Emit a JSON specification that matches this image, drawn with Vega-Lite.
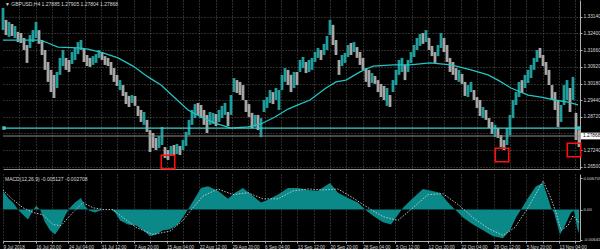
{
"$schema":"https://vega.github.io/schema/vega-lite/v6.json",
"background":"#000000",
"padding":0,
"spacing":2,
"config":{"view":{"stroke":null},"font":"Liberation Sans",
"axis":{"labelColor":"#d8d8d8","labelFontSize":4.8,"domainColor":"#b0b0b0","tickColor":"#b0b0b0","gridColor":"#6e6e6e","gridDash":[1,2],"gridWidth":0.8,"title":null,"labelFont":"Liberation Sans"}},
"datasets":{
"candles":[
{"i":0,"hi":1.3353,"lo":1.3255,"d":"u"},{"i":3,"hi":1.3300,"lo":1.3233,"d":"d"},{"i":6,"hi":1.3291,"lo":1.3225,"d":"u"},{"i":9,"hi":1.3282,"lo":1.3229,"d":"d"},{"i":12,"hi":1.3273,"lo":1.3220,"d":"u"},{"i":15,"hi":1.3247,"lo":1.3202,"d":"d"},{"i":18,"hi":1.3242,"lo":1.3198,"d":"d"},{"i":21,"hi":1.3220,"lo":1.3167,"d":"d"},{"i":24,"hi":1.3189,"lo":1.3110,"d":"d"},{"i":27,"hi":1.3233,"lo":1.3176,"d":"u"},{"i":30,"hi":1.3255,"lo":1.3202,"d":"u"},{"i":33,"hi":1.3291,"lo":1.3220,"d":"u"},{"i":36,"hi":1.3255,"lo":1.3194,"d":"d"},{"i":39,"hi":1.3211,"lo":1.3145,"d":"d"},{"i":42,"hi":1.3167,"lo":1.3079,"d":"d"},{"i":45,"hi":1.3114,"lo":1.3026,"d":"d"},{"i":48,"hi":1.3079,"lo":1.2981,"d":"d"},{"i":51,"hi":1.3057,"lo":1.2955,"d":"d"},{"i":54,"hi":1.3070,"lo":1.2999,"d":"u"},{"i":57,"hi":1.3132,"lo":1.3057,"d":"u"},{"i":60,"hi":1.3167,"lo":1.3096,"d":"u"},{"i":63,"hi":1.3132,"lo":1.3079,"d":"d"},{"i":66,"hi":1.3123,"lo":1.3070,"d":"d"},{"i":69,"hi":1.3158,"lo":1.3105,"d":"u"},{"i":72,"hi":1.3176,"lo":1.3123,"d":"u"},{"i":75,"hi":1.3202,"lo":1.3149,"d":"u"},{"i":78,"hi":1.3211,"lo":1.3167,"d":"u"},{"i":81,"hi":1.3176,"lo":1.3114,"d":"d"},{"i":84,"hi":1.3145,"lo":1.3096,"d":"d"},{"i":87,"hi":1.3132,"lo":1.3092,"d":"d"},{"i":90,"hi":1.3140,"lo":1.3101,"d":"u"},{"i":93,"hi":1.3149,"lo":1.3110,"d":"u"},{"i":96,"hi":1.3167,"lo":1.3132,"d":"u"},{"i":99,"hi":1.3158,"lo":1.3123,"d":"d"},{"i":102,"hi":1.3140,"lo":1.3101,"d":"d"},{"i":105,"hi":1.3132,"lo":1.3096,"d":"d"},{"i":108,"hi":1.3114,"lo":1.3057,"d":"d"},{"i":111,"hi":1.3087,"lo":1.3026,"d":"d"},{"i":114,"hi":1.3057,"lo":1.3008,"d":"d"},{"i":117,"hi":1.3034,"lo":1.2990,"d":"u"},{"i":120,"hi":1.3012,"lo":1.2964,"d":"d"},{"i":123,"hi":1.2981,"lo":1.2928,"d":"d"},{"i":126,"hi":1.2964,"lo":1.2915,"d":"d"},{"i":129,"hi":1.2968,"lo":1.2933,"d":"u"},{"i":132,"hi":1.2964,"lo":1.2920,"d":"d"},{"i":135,"hi":1.2920,"lo":1.2875,"d":"d"},{"i":138,"hi":1.2902,"lo":1.2849,"d":"d"},{"i":141,"hi":1.2893,"lo":1.2836,"d":"u"},{"i":144,"hi":1.2858,"lo":1.2805,"d":"d"},{"i":147,"hi":1.2813,"lo":1.2716,"d":"d"},{"i":150,"hi":1.2800,"lo":1.2734,"d":"d"},{"i":153,"hi":1.2778,"lo":1.2725,"d":"d"},{"i":156,"hi":1.2787,"lo":1.2734,"d":"u"},{"i":159,"hi":1.2827,"lo":1.2747,"d":"u"},{"i":162,"hi":1.2738,"lo":1.2690,"d":"d"},{"i":165,"hi":1.2725,"lo":1.2681,"d":"d"},{"i":168,"hi":1.2743,"lo":1.2699,"d":"u"},{"i":171,"hi":1.2747,"lo":1.2703,"d":"d"},{"i":174,"hi":1.2752,"lo":1.2707,"d":"u"},{"i":177,"hi":1.2743,"lo":1.2703,"d":"d"},{"i":180,"hi":1.2769,"lo":1.2725,"d":"u"},{"i":183,"hi":1.2805,"lo":1.2743,"d":"u"},{"i":186,"hi":1.2858,"lo":1.2791,"d":"u"},{"i":189,"hi":1.2902,"lo":1.2836,"d":"u"},{"i":192,"hi":1.2928,"lo":1.2866,"d":"u"},{"i":195,"hi":1.2933,"lo":1.2880,"d":"d"},{"i":198,"hi":1.2924,"lo":1.2866,"d":"d"},{"i":201,"hi":1.2902,"lo":1.2836,"d":"d"},{"i":204,"hi":1.2880,"lo":1.2800,"d":"d"},{"i":207,"hi":1.2893,"lo":1.2836,"d":"u"},{"i":210,"hi":1.2889,"lo":1.2840,"d":"u"},{"i":213,"hi":1.2884,"lo":1.2831,"d":"d"},{"i":216,"hi":1.2902,"lo":1.2849,"d":"u"},{"i":219,"hi":1.2920,"lo":1.2866,"d":"u"},{"i":222,"hi":1.2933,"lo":1.2880,"d":"u"},{"i":225,"hi":1.2893,"lo":1.2831,"d":"d"},{"i":228,"hi":1.2968,"lo":1.2880,"d":"u"},{"i":231,"hi":1.3043,"lo":1.2981,"d":"u"},{"i":234,"hi":1.3034,"lo":1.2977,"d":"d"},{"i":237,"hi":1.3026,"lo":1.2968,"d":"d"},{"i":240,"hi":1.3012,"lo":1.2946,"d":"d"},{"i":243,"hi":1.2946,"lo":1.2893,"d":"d"},{"i":246,"hi":1.2928,"lo":1.2871,"d":"d"},{"i":249,"hi":1.2889,"lo":1.2822,"d":"d"},{"i":252,"hi":1.2880,"lo":1.2827,"d":"u"},{"i":255,"hi":1.2880,"lo":1.2813,"d":"d"},{"i":258,"hi":1.2866,"lo":1.2782,"d":"u"},{"i":261,"hi":1.2946,"lo":1.2893,"d":"u"},{"i":264,"hi":1.2959,"lo":1.2911,"d":"u"},{"i":267,"hi":1.2990,"lo":1.2933,"d":"u"},{"i":270,"hi":1.2981,"lo":1.2928,"d":"d"},{"i":273,"hi":1.2999,"lo":1.2946,"d":"u"},{"i":276,"hi":1.2990,"lo":1.2902,"d":"u"},{"i":279,"hi":1.3057,"lo":1.2990,"d":"u"},{"i":282,"hi":1.3087,"lo":1.3026,"d":"u"},{"i":285,"hi":1.3079,"lo":1.3012,"d":"d"},{"i":288,"hi":1.3057,"lo":1.2981,"d":"d"},{"i":291,"hi":1.3070,"lo":1.2999,"d":"u"},{"i":294,"hi":1.3070,"lo":1.3012,"d":"d"},{"i":297,"hi":1.3123,"lo":1.3070,"d":"u"},{"i":300,"hi":1.3136,"lo":1.3087,"d":"u"},{"i":303,"hi":1.3114,"lo":1.3065,"d":"d"},{"i":306,"hi":1.3123,"lo":1.3070,"d":"u"},{"i":309,"hi":1.3132,"lo":1.3079,"d":"u"},{"i":312,"hi":1.3158,"lo":1.3114,"d":"u"},{"i":315,"hi":1.3176,"lo":1.3132,"d":"u"},{"i":318,"hi":1.3167,"lo":1.3123,"d":"d"},{"i":321,"hi":1.3194,"lo":1.3145,"d":"u"},{"i":324,"hi":1.3229,"lo":1.3167,"d":"u"},{"i":327,"hi":1.3300,"lo":1.3233,"d":"u"},{"i":330,"hi":1.3278,"lo":1.3189,"d":"d"},{"i":333,"hi":1.3211,"lo":1.3145,"d":"d"},{"i":336,"hi":1.3123,"lo":1.3057,"d":"d"},{"i":339,"hi":1.3145,"lo":1.3096,"d":"u"},{"i":342,"hi":1.3154,"lo":1.3110,"d":"u"},{"i":345,"hi":1.3189,"lo":1.3136,"d":"u"},{"i":348,"hi":1.3198,"lo":1.3145,"d":"d"},{"i":351,"hi":1.3202,"lo":1.3158,"d":"u"},{"i":354,"hi":1.3180,"lo":1.3132,"d":"d"},{"i":357,"hi":1.3158,"lo":1.3101,"d":"d"},{"i":360,"hi":1.3132,"lo":1.3079,"d":"d"},{"i":363,"hi":1.3087,"lo":1.3026,"d":"d"},{"i":366,"hi":1.3079,"lo":1.3003,"d":"d"},{"i":369,"hi":1.3065,"lo":1.3021,"d":"u"},{"i":372,"hi":1.3052,"lo":1.3017,"d":"d"},{"i":375,"hi":1.3034,"lo":1.2981,"d":"d"},{"i":378,"hi":1.3017,"lo":1.2959,"d":"d"},{"i":381,"hi":1.3008,"lo":1.2946,"d":"d"},{"i":384,"hi":1.2999,"lo":1.2920,"d":"u"},{"i":387,"hi":1.2968,"lo":1.2915,"d":"d"},{"i":390,"hi":1.3034,"lo":1.2981,"d":"u"},{"i":393,"hi":1.3079,"lo":1.3012,"d":"u"},{"i":396,"hi":1.3123,"lo":1.3057,"d":"u"},{"i":399,"hi":1.3132,"lo":1.3070,"d":"u"},{"i":402,"hi":1.3101,"lo":1.3034,"d":"d"},{"i":405,"hi":1.3123,"lo":1.3070,"d":"u"},{"i":408,"hi":1.3158,"lo":1.3110,"d":"u"},{"i":411,"hi":1.3189,"lo":1.3136,"d":"u"},{"i":414,"hi":1.3220,"lo":1.3167,"d":"u"},{"i":417,"hi":1.3238,"lo":1.3185,"d":"u"},{"i":420,"hi":1.3242,"lo":1.3194,"d":"d"},{"i":423,"hi":1.3255,"lo":1.3202,"d":"u"},{"i":426,"hi":1.3220,"lo":1.3167,"d":"d"},{"i":429,"hi":1.3185,"lo":1.3140,"d":"d"},{"i":432,"hi":1.3158,"lo":1.3110,"d":"d"},{"i":435,"hi":1.3189,"lo":1.3140,"d":"u"},{"i":438,"hi":1.3242,"lo":1.3176,"d":"u"},{"i":441,"hi":1.3220,"lo":1.3158,"d":"d"},{"i":444,"hi":1.3189,"lo":1.3114,"d":"d"},{"i":447,"hi":1.3132,"lo":1.3070,"d":"d"},{"i":450,"hi":1.3114,"lo":1.3057,"d":"d"},{"i":453,"hi":1.3087,"lo":1.3034,"d":"d"},{"i":456,"hi":1.3079,"lo":1.3026,"d":"u"},{"i":459,"hi":1.3061,"lo":1.3017,"d":"d"},{"i":462,"hi":1.3026,"lo":1.2964,"d":"d"},{"i":465,"hi":1.3012,"lo":1.2959,"d":"u"},{"i":468,"hi":1.3026,"lo":1.2981,"d":"u"},{"i":471,"hi":1.2990,"lo":1.2946,"d":"d"},{"i":474,"hi":1.2959,"lo":1.2911,"d":"d"},{"i":477,"hi":1.2946,"lo":1.2875,"d":"d"},{"i":480,"hi":1.2915,"lo":1.2866,"d":"u"},{"i":483,"hi":1.2902,"lo":1.2858,"d":"d"},{"i":486,"hi":1.2866,"lo":1.2822,"d":"d"},{"i":489,"hi":1.2849,"lo":1.2796,"d":"d"},{"i":492,"hi":1.2836,"lo":1.2782,"d":"u"},{"i":495,"hi":1.2822,"lo":1.2778,"d":"d"},{"i":498,"hi":1.2791,"lo":1.2738,"d":"d"},{"i":501,"hi":1.2769,"lo":1.2725,"d":"d"},{"i":504,"hi":1.2822,"lo":1.2747,"d":"u"},{"i":507,"hi":1.2880,"lo":1.2791,"d":"u"},{"i":510,"hi":1.2946,"lo":1.2866,"d":"u"},{"i":513,"hi":1.2981,"lo":1.2924,"d":"u"},{"i":516,"hi":1.3026,"lo":1.2959,"d":"u"},{"i":519,"hi":1.3034,"lo":1.2977,"d":"d"},{"i":522,"hi":1.3057,"lo":1.2999,"d":"u"},{"i":525,"hi":1.3079,"lo":1.3021,"d":"u"},{"i":528,"hi":1.3101,"lo":1.3043,"d":"u"},{"i":531,"hi":1.3132,"lo":1.3079,"d":"u"},{"i":534,"hi":1.3167,"lo":1.3114,"d":"u"},{"i":537,"hi":1.3176,"lo":1.3132,"d":"d"},{"i":540,"hi":1.3145,"lo":1.3096,"d":"d"},{"i":543,"hi":1.3114,"lo":1.3057,"d":"d"},{"i":546,"hi":1.3079,"lo":1.3012,"d":"d"},{"i":549,"hi":1.3012,"lo":1.2946,"d":"d"},{"i":552,"hi":1.2981,"lo":1.2902,"d":"d"},{"i":555,"hi":1.2946,"lo":1.2827,"d":"d"},{"i":558,"hi":1.2924,"lo":1.2849,"d":"u"},{"i":561,"hi":1.3012,"lo":1.2924,"d":"u"},{"i":564,"hi":1.3034,"lo":1.2946,"d":"u"},{"i":567,"hi":1.2999,"lo":1.2893,"d":"d"},{"i":570,"hi":1.3048,"lo":1.2946,"d":"u"},{"i":573,"hi":1.2889,"lo":1.2769,"d":"d"},{"i":576,"hi":1.2813,"lo":1.2738,"d":"d"}
],
"ma":[
{"i":0,"v":1.3211},{"i":37,"v":1.3211},{"i":45,"v":1.3198},{"i":55,"v":1.3180},{"i":75,"v":1.3176},{"i":85,"v":1.3171},{"i":100,"v":1.3154},{"i":115,"v":1.3132},{"i":130,"v":1.3096},{"i":145,"v":1.3048},{"i":158,"v":1.3012},{"i":172,"v":1.2955},{"i":185,"v":1.2902},{"i":198,"v":1.2871},{"i":212,"v":1.2844},{"i":228,"v":1.2822},{"i":245,"v":1.2827},{"i":258,"v":1.2840},{"i":272,"v":1.2871},{"i":285,"v":1.2906},{"i":295,"v":1.2924},{"i":307,"v":1.2946},{"i":323,"v":1.2999},{"i":333,"v":1.3026},{"i":343,"v":1.3034},{"i":357,"v":1.3070},{"i":370,"v":1.3096},{"i":390,"v":1.3101},{"i":407,"v":1.3101},{"i":427,"v":1.3110},{"i":448,"v":1.3101},{"i":468,"v":1.3079},{"i":485,"v":1.3057},{"i":495,"v":1.3034},{"i":508,"v":1.2999},{"i":525,"v":1.2968},{"i":538,"v":1.2959},{"i":552,"v":1.2946},{"i":565,"v":1.2937},{"i":575,"v":1.2924}
],
"level":[{"i":1,"p":1.2822},{"i":576,"p":1.2822}],
"marks":[{"i":165,"p":1.2672},{"i":499,"p":1.2703},{"i":571,"p":1.2725}],
"hist":[
{"i":0,"h":0.0040},{"i":5,"h":0.0025},{"i":10,"h":0.0015},{"i":15,"h":0},{"i":20,"h":-0.0011},{"i":25,"h":-0.0021},{"i":30,"h":-0.0002},{"i":33,"h":0.0008},{"i":37,"h":0},{"i":42,"h":-0.0027},{"i":47,"h":-0.0044},{"i":52,"h":-0.0053},{"i":57,"h":-0.0038},{"i":62,"h":-0.0013},{"i":66,"h":0.0002},{"i":72,"h":0.0015},{"i":78,"h":0.0025},{"i":82,"h":0.0008},{"i":86,"h":-0.0002},{"i":92,"h":-0.0006},{"i":100,"h":0},{"i":108,"h":0},{"i":112,"h":-0.0006},{"i":117,"h":-0.0023},{"i":125,"h":-0.0032},{"i":133,"h":-0.0034},{"i":140,"h":-0.0044},{"i":147,"h":-0.0057},{"i":153,"h":-0.0053},{"i":160,"h":-0.0044},{"i":167,"h":-0.0042},{"i":175,"h":-0.0032},{"i":181,"h":-0.0013},{"i":186,"h":0.0004},{"i":192,"h":0.0025},{"i":198,"h":0.0046},{"i":205,"h":0.0050},{"i":215,"h":0.0040},{"i":225,"h":0.0023},{"i":232,"h":0.0036},{"i":240,"h":0.0046},{"i":250,"h":0.0029},{"i":258,"h":0.0015},{"i":265,"h":0.0021},{"i":275,"h":0.0032},{"i":285,"h":0.0046},{"i":295,"h":0.0046},{"i":305,"h":0.0042},{"i":315,"h":0.0040},{"i":327,"h":0.0057},{"i":335,"h":0.0036},{"i":345,"h":0.0025},{"i":355,"h":0.0015},{"i":362,"h":0},{"i":370,"h":-0.0013},{"i":380,"h":-0.0027},{"i":388,"h":-0.0032},{"i":395,"h":-0.0011},{"i":400,"h":0.0004},{"i":410,"h":0.0025},{"i":420,"h":0.0044},{"i":428,"h":0.0040},{"i":437,"h":0.0036},{"i":445,"h":0.0015},{"i":452,"h":0},{"i":460,"h":-0.0017},{"i":470,"h":-0.0032},{"i":480,"h":-0.0044},{"i":490,"h":-0.0057},{"i":500,"h":-0.0061},{"i":507,"h":-0.0044},{"i":513,"h":-0.0017},{"i":518,"h":0},{"i":525,"h":0.0025},{"i":533,"h":0.0050},{"i":540,"h":0.0057},{"i":545,"h":0.0025},{"i":548,"h":0.0004},{"i":551,"h":-0.0006},{"i":557,"h":-0.0053},{"i":562,"h":-0.0034},{"i":568,"h":-0.0006},{"i":571,"h":-0.0002},{"i":574,"h":-0.0038},{"i":576,"h":-0.0051}
],
"sig":[
{"i":0,"s":0.0042},{"i":10,"s":0.0021},{"i":20,"s":0.0004},{"i":30,"s":-0.0006},{"i":40,"s":-0.0011},{"i":50,"s":-0.0032},{"i":58,"s":-0.0034},{"i":70,"s":-0.0006},{"i":80,"s":0.0015},{"i":90,"s":0.0004},{"i":100,"s":0},{"i":110,"s":0},{"i":120,"s":-0.0017},{"i":133,"s":-0.0038},{"i":150,"s":-0.0053},{"i":167,"s":-0.0046},{"i":180,"s":-0.0023},{"i":190,"s":0.0004},{"i":200,"s":0.0029},{"i":215,"s":0.0044},{"i":230,"s":0.0032},{"i":245,"s":0.0036},{"i":260,"s":0.0023},{"i":275,"s":0.0023},{"i":290,"s":0.0040},{"i":305,"s":0.0044},{"i":320,"s":0.0042},{"i":335,"s":0.0044},{"i":350,"s":0.0025},{"i":365,"s":0.0004},{"i":380,"s":-0.0015},{"i":395,"s":-0.0023},{"i":410,"s":0.0004},{"i":425,"s":0.0032},{"i":440,"s":0.0034},{"i":455,"s":0.0011},{"i":470,"s":-0.0017},{"i":485,"s":-0.0040},{"i":500,"s":-0.0055},{"i":512,"s":-0.0038},{"i":525,"s":0.0004},{"i":540,"s":0.0061},{"i":547,"s":0.0029},{"i":553,"s":-0.0006},{"i":558,"s":-0.0044},{"i":565,"s":-0.0034},{"i":570,"s":-0.0013},{"i":576,"s":-0.0027}
],
"hdr":[{"i":2,"p":1.3372,"t":"▼  GBPUSD,H4  1.27885 1.27905 1.27804 1.27868"}],
"mhdr":[{"i":2,"v":0.0066,"t":"MACD(12,26,9) -0.005127 -0.002708"}],
"bid":[{"i":577,"p":1.27868,"t":"1.27868"}]
},
"vconcat":[
{
"width":577,"height":169,
"layer":[
{"data":{"name":"candles"},"mark":{"type":"rule","strokeWidth":2.8},
"encoding":{
"x":{"field":"i","type":"quantitative","scale":{"domain":[0,577],"nice":false,"zero":false},
"axis":{"orient":"bottom","labels":false,"ticks":false,"domain":true,"domainColor":"#909090","grid":true,"tickCount":100,
"values":[16.35,32.7,49.05,65.4,81.75,98.1,114.45,130.8,147.15,163.5,179.85,196.2,212.55,228.9,245.25,261.6,277.95,294.3,310.65,327,343.35,359.7,376.05,392.4,408.75,425.1,441.45,457.8,474.15,490.5,506.85,523.2,539.55,555.9,572.25]}},
"y":{"field":"lo","type":"quantitative","scale":{"domain":[1.2641,1.3388],"nice":false,"zero":false},
"axis":{"orient":"right","grid":true,"tickSize":2,"labelPadding":1,"labelBaseline":"middle","labelOverlap":false,"labelBound":false,"labelFlush":false,"tickCount":100,
"values":[1.3314,1.324,1.3166,1.3092,1.3018,1.2944,1.2872,1.2798,1.2724,1.265],
"labelExpr":"abs(datum.value-1.2798)<0.0001 ? '' : format(datum.value,'.5f')"}},
"y2":{"field":"hi"},
"color":{"field":"d","type":"nominal","scale":{"domain":["u","d"],"range":["#1f9c9c","#a6a6a6"]},"legend":null}}},
{"data":{"name":"ma"},"mark":{"type":"line","color":"#22c4c4","strokeWidth":1.3},
"encoding":{"x":{"field":"i","type":"quantitative"},"y":{"field":"v","type":"quantitative"}}},
{"data":{"name":"level"},"mark":{"type":"line","color":"#3ad0d0","strokeWidth":1.3},
"encoding":{"x":{"field":"i","type":"quantitative"},"y":{"field":"p","type":"quantitative"}}},
{"data":{"name":"level"},"mark":{"type":"point","shape":"square","filled":true,"color":"#3ad0d0","size":12,"opacity":1},
"encoding":{"x":{"field":"i","type":"quantitative"},"y":{"field":"p","type":"quantitative"}}},
{"data":{"name":"bid"},"mark":{"type":"rule","color":"#8a8a8a","strokeWidth":1},
"encoding":{"y":{"field":"p","type":"quantitative"}}},
{"data":{"name":"marks"},"mark":{"type":"point","shape":"square","filled":false,"stroke":"#ff1010","strokeWidth":1.6,"size":180,"opacity":1},
"encoding":{"x":{"field":"i","type":"quantitative"},"y":{"field":"p","type":"quantitative"}}},
{"data":{"name":"hdr"},"mark":{"type":"text","align":"left","baseline":"middle","fontSize":5,"color":"#d8d8d8"},
"encoding":{"x":{"field":"i","type":"quantitative"},"y":{"field":"p","type":"quantitative"},"text":{"field":"t"}}},
{"data":{"name":"bid"},"mark":{"type":"point","shape":"M-1,-0.32L1,-0.32L1,0.32L-1,0.32Z","filled":true,"color":"#ffffff","size":440,"opacity":1,"xOffset":11.5},
"encoding":{"x":{"field":"i","type":"quantitative"},"y":{"field":"p","type":"quantitative"}}},
{"data":{"name":"bid"},"mark":{"type":"text","align":"left","baseline":"middle","fontSize":4.8,"color":"#000000","dx":3},
"encoding":{"x":{"field":"i","type":"quantitative"},"y":{"field":"p","type":"quantitative"},"text":{"field":"t"}}}
]
},
{
"width":577,"height":67,
"layer":[
{"data":{"name":"hist"},"mark":{"type":"area","color":"#0b8888","opacity":1},
"encoding":{
"x":{"field":"i","type":"quantitative","scale":{"domain":[0,577],"nice":false,"zero":false},
"axis":{"orient":"bottom","grid":true,"tickSize":2,"labelAlign":"left","labelPadding":1,"labelFontSize":4.6,"labelOverlap":false,"labelBound":false,"labelFlush":false,"tickCount":100,
"values":[0,16.35,32.7,49.05,65.4,81.75,98.1,114.45,130.8,147.15,163.5,179.85,196.2,212.55,228.9,245.25,261.6,277.95,294.3,310.65,327,343.35,359.7,376.05,392.4,408.75,425.1,441.45,457.8,474.15,490.5,506.85,523.2,539.55,555.9,572.25],
"labelExpr":"round(datum.value/16.35) % 2 == 0 ? ['9 Jul 2018','16 Jul 20:00','24 Jul 04:00','31 Jul 12:00','7 Aug 20:00','15 Aug 04:00','22 Aug 12:00','29 Aug 20:00','6 Sep 04:00','13 Sep 12:00','20 Sep 20:00','28 Sep 04:00','5 Oct 12:00','12 Oct 20:00','22 Oct 04:00','29 Oct 12:00','5 Nov 20:00','13 Nov 04:00'][round(datum.value/32.7)] : ''"}},
"y":{"field":"h","type":"quantitative","scale":{"domain":[-0.0067,0.0076],"nice":false,"zero":false},
"axis":{"orient":"right","grid":false,"tickSize":2,"labelPadding":1,"labelFontSize":4.3,"labelBaseline":"middle","labelOverlap":false,"labelBound":false,"labelFlush":false,"tickCount":100,"values":[0.006705,0,-0.006418],
"labelExpr":"datum.value > 0.001 ? '0.006705' : (datum.value < -0.001 ? '-0.006418' : '0.00')"}},
"y2":{"datum":0}}},
{"data":{"name":"sig"},"mark":{"type":"line","color":"#d0d0d0","strokeWidth":0.9,"strokeDash":[1.5,1.5]},
"encoding":{"x":{"field":"i","type":"quantitative"},"y":{"field":"s","type":"quantitative"}}},
{"data":{"name":"mhdr"},"mark":{"type":"text","align":"left","baseline":"middle","fontSize":5,"color":"#d8d8d8"},
"encoding":{"x":{"field":"i","type":"quantitative"},"y":{"field":"v","type":"quantitative"},"text":{"field":"t"}}},
{"mark":{"type":"rule","color":"#909090","strokeWidth":1},"encoding":{"y":{"datum":0.0076}}}
]
}
]
}
